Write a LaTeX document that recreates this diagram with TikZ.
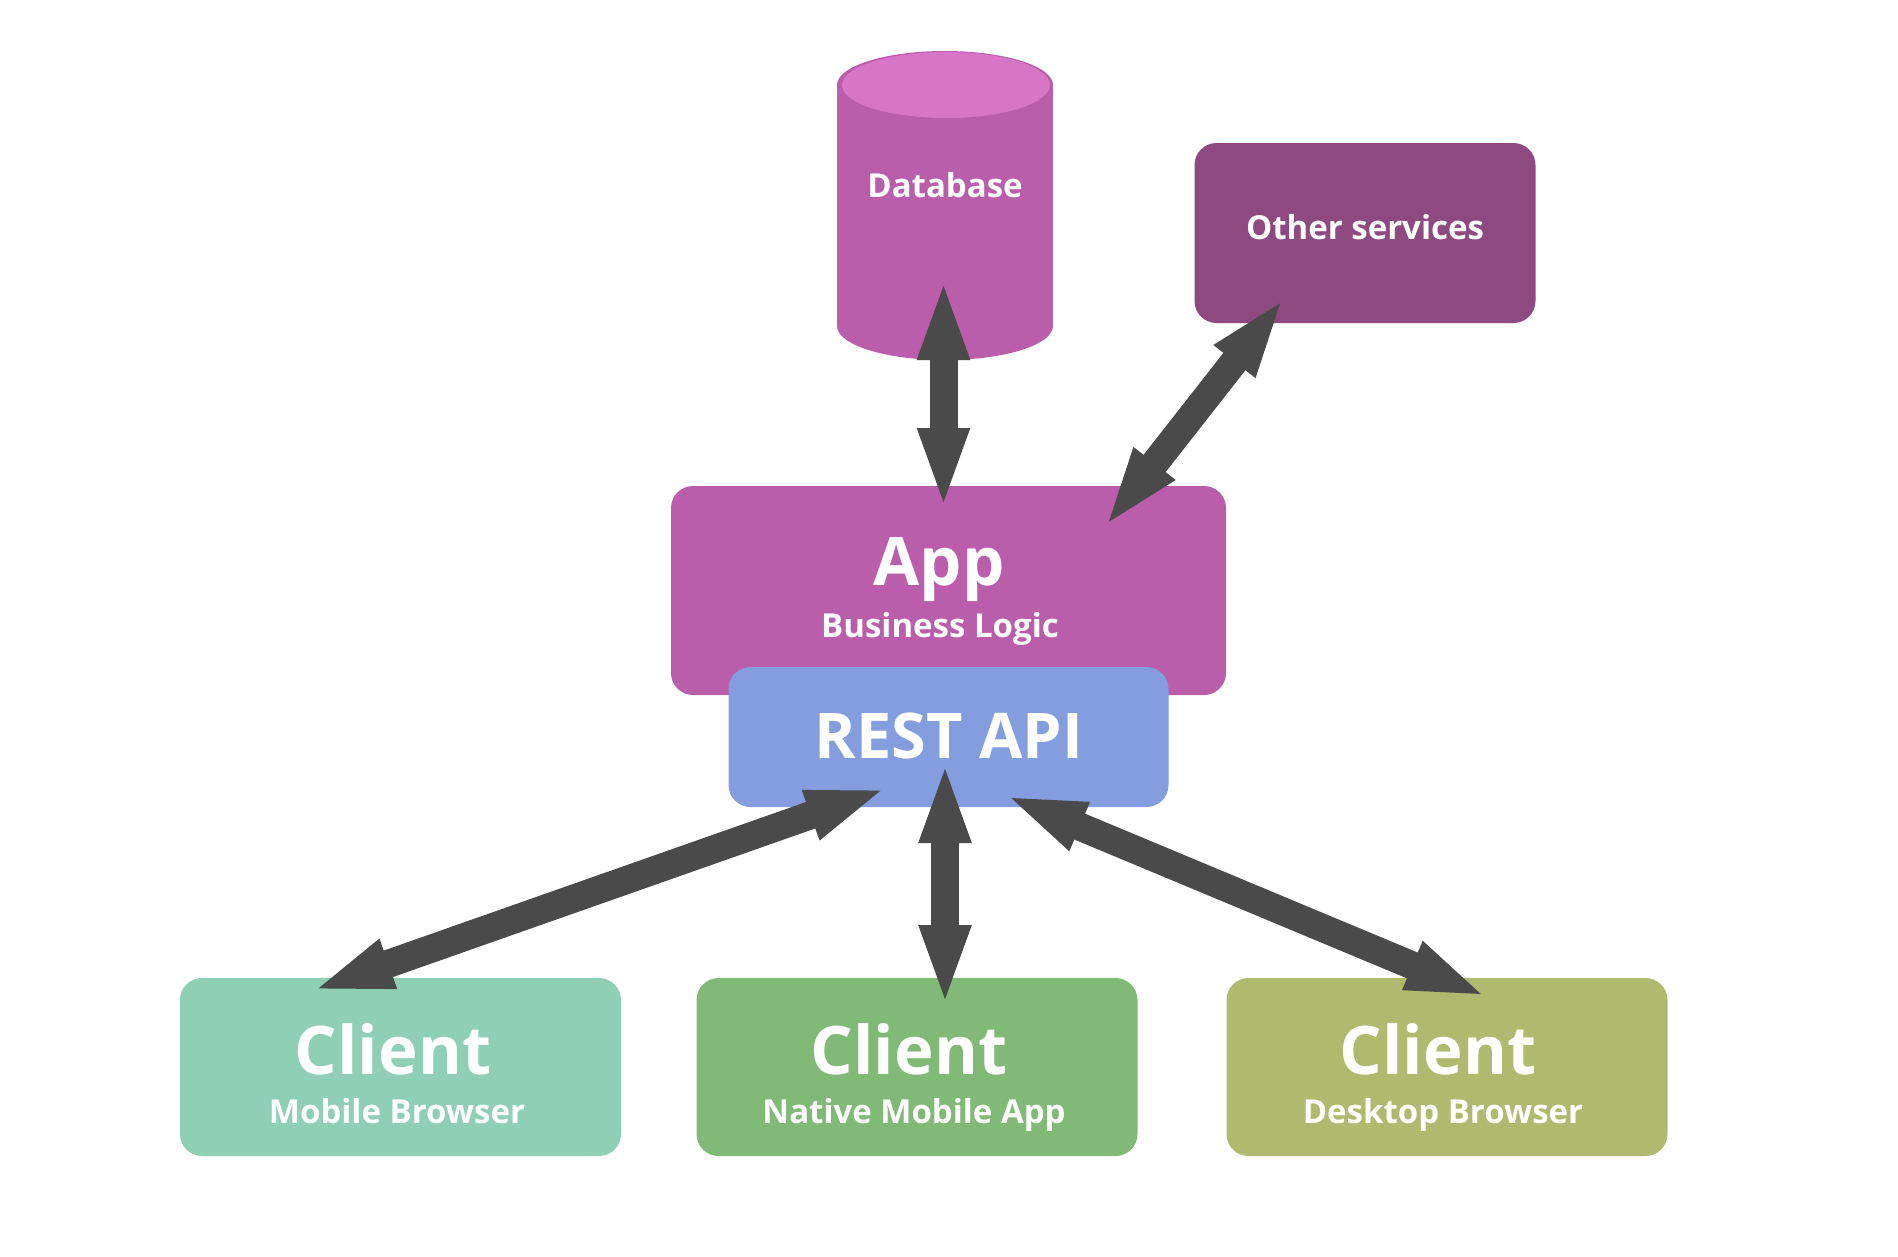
\documentclass[tikz,border=0pt]{standalone}
\usepackage{fontspec}
\setmainfont{Open Sans}[Ligatures=NoCommon]
\usetikzlibrary{arrows.meta}
\definecolor{appc}{HTML}{BA5DAA}
\definecolor{dbtop}{HTML}{D775C6}
\definecolor{otherc}{HTML}{8E4A80}
\definecolor{restc}{HTML}{839DDF}
\definecolor{cliA}{HTML}{8ECFB6}
\definecolor{cliB}{HTML}{81B977}
\definecolor{cliC}{HTML}{AFBA6F}
\definecolor{arrowc}{HTML}{4A4A4A}
\begin{document}
\begin{tikzpicture}[x=1pt,y=-1pt,
  box/.style={draw=none, rounded corners=22pt, inner sep=0pt},
  bigtxt/.style={text=white, inner sep=0pt, anchor=base, font=\fontsize{67}{67}\selectfont\bfseries},
  resttxt/.style={text=white, inner sep=0pt, anchor=base, font=\fontsize{63}{63}\selectfont\bfseries},
  smalltxt/.style={text=white, inner sep=0pt, anchor=base, font=\fontsize{33}{33}\selectfont\bfseries},
  conn/.style={draw=arrowc, line width=28pt,
    {Triangle[length=82pt,width=46pt]}-{Triangle[length=82pt,width=46pt]}}]
\useasboundingbox (0,0) rectangle (1898,1256);
% database cylinder
\fill[appc] (837,85) rectangle (1053,326);
\fill[appc] (945,326) ellipse[x radius=108, y radius=34];
\fill[appc] (945,85) ellipse[x radius=108, y radius=34];
\fill[dbtop] (946,85) ellipse[x radius=104, y radius=33];
\node[smalltxt] (dblabel) at (945,197) {Database};
% other services
\node[box, fill=otherc, minimum width=341pt, minimum height=180pt] (other) at (1365,233) {};
\node[smalltxt] (otherlabel) at (1365,239) {Other services};
% app
\node[box, fill=appc, minimum width=555pt, minimum height=209pt] (app) at (948.5,590.5) {};
\node[bigtxt] (apptitle) at (939,585) {App};
\node[smalltxt] (appsub) at (940,637) {Business Logic};
% rest api
\node[box, fill=restc, minimum width=440pt, minimum height=140pt] (rest) at (948.5,737) {};
\node[resttxt] (resttitle) at (949,758) {REST API};
% clients
\node[box, fill=cliA, minimum width=441pt, minimum height=178pt] (c1) at (400.5,1067) {};
\node[box, fill=cliB, minimum width=441pt, minimum height=178pt] (c2) at (917,1067) {};
\node[box, fill=cliC, minimum width=441pt, minimum height=178pt] (c3) at (1447,1067) {};
\node[bigtxt] (c1t) at (393,1074) {Client};
\node[smalltxt] (c1s) at (397,1123) {Mobile Browser};
\node[bigtxt] (c2t) at (909,1074) {Client};
\node[smalltxt] (c2s) at (914,1123) {Native Mobile App};
\node[bigtxt] (c3t) at (1438,1074) {Client};
\node[smalltxt] (c3s) at (1443,1123) {Desktop Browser};
% arrow end points
\coordinate (dbA) at (943.5,278);
\coordinate (dbB) at (943.5,510);
\coordinate (otA) at (1285,297);
\coordinate (otB) at (1104,528);
\coordinate (lA) at (888,788);
\coordinate (lB) at (311,991);
\coordinate (mA) at (945,761);
\coordinate (mB) at (945,1007);
\coordinate (rA) at (1004,795);
\coordinate (rB) at (1488,997);
\draw[conn] (dbA) -- (dbB);
\draw[conn] (otA) -- (otB);
\draw[conn] (lA) -- (lB);
\draw[conn] (mA) -- (mB);
\draw[conn] (rA) -- (rB);
\end{tikzpicture}
\end{document}
